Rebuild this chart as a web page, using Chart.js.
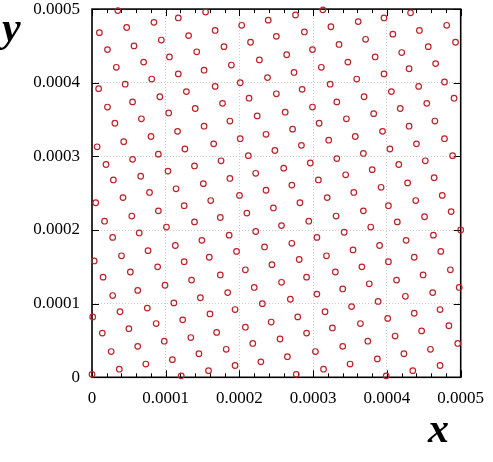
<!DOCTYPE html>
<html>
<head>
<meta charset="utf-8">
<script src="https://cdn.jsdelivr.net/npm/chart.js@4.4.1/dist/chart.umd.min.js"></script>
<style>
html,body{margin:0;padding:0;background:#fff;}
#wrap{width:493px;height:462px;position:relative;}
</style>
</head>
<body>
<div id="wrap"><canvas id="c" width="493" height="462"></canvas></div>
<script>
// values are stored in units of 1e-6
const UNIT = 1e-6;

const xTickValues = [0, 100, 200, 300, 400, 500];
const xTickLabels = ['0', '0.0001', '0.0002', '0.0003', '0.0004', '0.0005'];
const yTickValues = [0, 100, 200, 300, 400, 500];
const yTickLabels = ['0', '0.0001', '0.0002', '0.0003', '0.0004', '0.0005'];
const xMinorTicks = [20, 40, 60, 80, 120, 140, 160, 180, 220, 240, 260, 280, 320, 340, 360, 380, 420, 440, 460, 480];

const xName = 'x';
const yName = 'y';

const xs = [
  35,84,117,154,10,47,94,131,21,57,105,142,33,70,117,152,9,45,81,128,21,55,92,140,31,67,104,152,
  167,203,239,276,313,179,215,250,288,324,189,227,264,299,167,201,238,274,311,177,213,250,285,323,332,187,224,262,299,308,272,
  361,396,432,481,335,371,408,444,493,347,384,420,456,359,396,430,466,478,443,406,369,491,454,418,382,345,465,430,
  116,7,43,80,165,126,90,55,19,103,139,66,29,114,151,78,42,5,161,125,90,54,17,139,101,64,28,149,113,76,
  201,236,321,284,248,212,175,332,296,260,222,187,307,271,236,200,319,282,246,210,174,331,294,257,222,186,305,271,234,196,
  394,357,478,440,404,368,489,452,416,380,344,464,428,392,355,475,439,402,368,487,451,414,378,342,500,463,426,390,354,473,
  3,40,159,125,89,52,15,135,99,62,28,147,111,75,38,1,160,123,87,50,14,134,98,62,26,145,109,73,37,0,158,121,
  281,318,244,208,174,330,291,257,220,184,305,269,231,194,316,279,243,208,169,326,291,255,218,182,303,265,229,194,314,277,
  437,402,366,486,449,413,376,340,498,462,425,388,352,472,437,401,364,484,447,411,374,340,496,459,423,387,350,472,435,399
];
const ys = [
  498,482,488,496,468,475,458,464,445,450,435,442,421,428,412,417,392,398,405,388,367,374,381,365,345,351,359,341,
  471,478,485,492,499,449,455,463,469,476,424,431,438,445,395,400,407,414,421,372,379,385,391,398,374,348,355,360,367,345,337,
  483,488,495,478,452,459,466,471,455,428,435,441,449,405,412,419,426,401,395,388,381,379,372,365,358,351,348,341,
  334,313,320,327,317,310,303,296,289,280,287,273,268,256,263,251,244,237,240,233,226,219,212,211,204,196,190,186,179,172,
  324,330,322,315,308,301,294,297,291,284,277,270,268,261,254,247,244,237,230,223,217,219,212,206,198,193,190,182,177,171,
  334,327,324,317,310,304,301,294,289,282,275,271,264,258,251,247,240,233,226,225,218,211,204,197,200,193,186,179,173,171,
  158,165,163,157,150,143,136,132,125,118,111,108,101,94,89,82,86,78,73,66,60,54,49,42,35,32,24,18,11,4,9,2,
  160,165,153,146,139,143,136,129,122,115,113,106,100,92,89,82,75,68,61,67,60,52,46,38,35,28,21,16,11,4,
  163,157,150,146,139,132,127,120,122,115,110,103,96,92,87,80,73,70,63,56,49,42,46,38,32,25,18,16,9,2
];

const points = xs.map((x, i) => ({ x: x * UNIT, y: ys[i] * UNIT }));

const SERIF = '"Liberation Serif", "Times New Roman", serif';

const framePlugin = {
  id: 'frame',
  beforeDatasetsDraw(chart) {
    const { ctx, chartArea: a, scales } = chart;
    const sx = scales.x, sy = scales.y;
    ctx.save();
    ctx.strokeStyle = '#000';
    ctx.lineWidth = 1;
    ctx.beginPath();
    xTickValues.forEach(v => {
      const px = Math.round(sx.getPixelForValue(v * UNIT)) + 0.5;
      ctx.moveTo(px, a.bottom); ctx.lineTo(px, a.bottom - 7);
      ctx.moveTo(px, a.top); ctx.lineTo(px, a.top + 7);
    });
    xMinorTicks.forEach(v => {
      const px = Math.round(sx.getPixelForValue(v * UNIT)) + 0.5;
      ctx.moveTo(px, a.bottom); ctx.lineTo(px, a.bottom - 4);
      ctx.moveTo(px, a.top); ctx.lineTo(px, a.top + 4);
    });
    yTickValues.forEach(v => {
      const py = Math.round(sy.getPixelForValue(v * UNIT)) + 0.5;
      ctx.moveTo(a.left, py); ctx.lineTo(a.left + 7, py);
      ctx.moveTo(a.right, py); ctx.lineTo(a.right - 7, py);
    });
    ctx.stroke();
    ctx.lineWidth = 1.6;
    ctx.strokeRect(a.left, a.top, a.right - a.left, a.bottom - a.top);
    ctx.restore();
  },
  afterDraw(chart) {
    const { ctx } = chart;
    ctx.save();
    ctx.fillStyle = '#000';
    ctx.font = 'bold italic 42px ' + SERIF;
    ctx.textAlign = 'left';
    ctx.textBaseline = 'alphabetic';
    ctx.fillText(yName, 2, 41);
    ctx.fillText(xName, 428, 442);
    ctx.restore();
  }
};

new Chart(document.getElementById('c'), {
  type: 'scatter',
  data: {
    datasets: [{
      data: points,
      pointStyle: 'circle',
      pointRadius: 2.8,
      pointHoverRadius: 2.8,
      pointBorderWidth: 1.2,
      borderColor: '#bb2229',
      pointBorderColor: '#bb2229',
      pointBackgroundColor: 'rgba(255,255,255,0)',
      backgroundColor: 'rgba(255,255,255,0)',
      showLine: false,
      clip: false
    }]
  },
  options: {
    responsive: false,
    animation: false,
    devicePixelRatio: 1,
    layout: { padding: 0 },
    plugins: { legend: { display: false }, tooltip: { enabled: false } },
    scales: {
      x: {
        type: 'linear',
        min: 0,
        max: 500 * UNIT,
        afterBuildTicks: s => { s.ticks = xTickValues.map(v => ({ value: v * UNIT })); },
        afterFit: s => { s.height = 84.7; s.paddingLeft = 0; s.paddingRight = 32.3; },
        ticks: {
          callback: (v, i) => xTickLabels[i],
          font: { family: SERIF, size: 17 },
          color: '#000',
          padding: 11,
          maxRotation: 0,
          autoSkip: false
        },
        grid: { color: '#c8c8c8', lineWidth: 1, drawTicks: false },
        border: { display: false, dash: [1, 2] }
      },
      y: {
        type: 'linear',
        min: 0,
        max: 500 * UNIT,
        afterBuildTicks: s => { s.ticks = yTickValues.map(v => ({ value: v * UNIT })); },
        afterFit: s => { s.width = 92; s.paddingTop = 9.1; s.paddingBottom = 0; },
        ticks: {
          callback: (v, i) => yTickLabels[i],
          font: { family: SERIF, size: 17 },
          color: '#000',
          padding: 12,
          autoSkip: false
        },
        grid: { color: '#c8c8c8', lineWidth: 1, drawTicks: false },
        border: { display: false, dash: [1, 2] }
      }
    }
  },
  plugins: [framePlugin]
});
</script>
</body>
</html>
